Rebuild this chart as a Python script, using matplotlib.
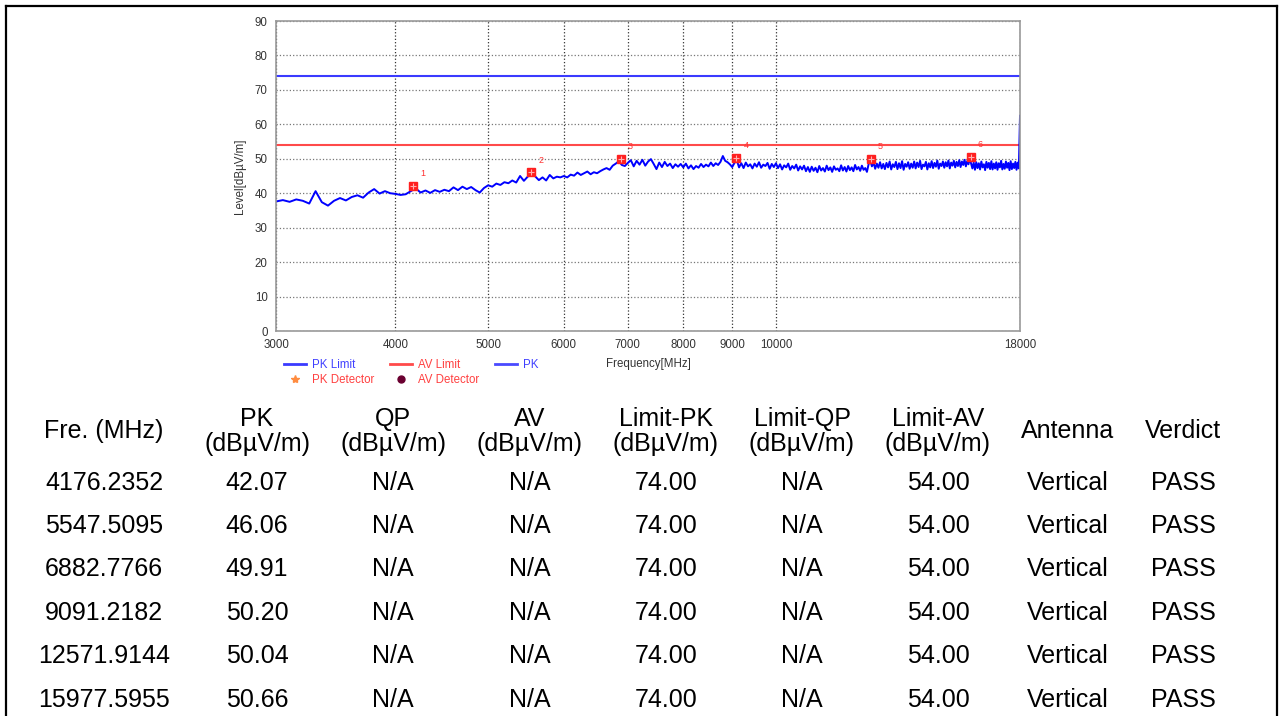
import numpy as np
import matplotlib
matplotlib.use('Agg')
import matplotlib.pyplot as plt
from matplotlib.lines import Line2D

plt.rcParams['font.family'] = ['Liberation Sans', 'DejaVu Sans']

# PK trace, one value every 50 MHz from 3000 to 18000 MHz
pk_level = [
    37.6, 38.0, 37.5, 38.2, 37.8, 37.0, 40.6, 37.4, 36.4, 37.8,
    38.6, 37.9, 38.9, 39.4, 38.7, 40.2, 41.2, 39.9, 40.6, 40.0,
    39.8, 39.5, 39.7, 40.6, 41.4, 40.2, 40.8, 40.1, 40.9, 40.4,
    41.0, 40.6, 41.7, 40.9, 41.9, 41.2, 41.8, 40.9, 40.2, 41.5,
    42.3, 41.9, 42.8, 42.4, 43.2, 42.9, 43.7, 43.1, 45.0, 43.6,
    44.8, 45.6, 44.9, 43.8, 44.6, 43.7, 45.3, 44.3, 44.8, 44.6,
    45.0, 44.6, 45.4, 45.1, 46.0, 45.3, 45.8, 46.3, 45.5, 46.1,
    45.8, 46.4, 46.9, 47.3, 46.8, 48.0, 48.6, 49.3, 48.2, 47.9,
    48.8, 49.6, 47.8, 49.4, 48.3, 49.7, 48.0, 49.2, 49.9, 48.5,
    47.0, 48.9, 47.6, 49.1, 47.9, 48.6, 47.3, 48.4, 47.7, 48.5,
    47.5, 48.6, 47.2, 48.1, 47.0, 47.9, 47.4, 48.5, 47.6, 48.3,
    47.8, 48.9, 47.9, 48.7, 48.2, 49.1, 50.8, 49.4, 49.0, 48.4,
    47.6, 48.8, 49.6, 47.5, 48.7, 47.3, 48.9, 47.8, 48.4, 47.2,
    48.6, 47.7, 49.0, 47.4, 48.3, 47.9, 48.8, 47.1, 48.5, 47.6,
    48.7, 47.3, 48.4, 46.9, 48.1, 47.5, 48.6, 46.8, 47.9, 47.2,
    48.3, 46.6, 47.8, 46.9, 48.0, 46.4, 47.6, 46.2, 47.7, 46.5,
    47.4, 46.1, 47.9, 46.6, 47.3, 46.3, 48.0, 46.7, 47.5, 46.2,
    47.8, 46.8, 47.2, 46.4, 48.1, 46.6, 47.6, 46.3, 47.9, 46.7,
    47.5, 46.4, 48.2, 46.9, 47.6, 46.5, 48.0, 46.8, 47.3, 46.2,
    48.4, 49.6, 47.8, 48.9, 47.1, 48.6, 47.4, 49.0, 47.2, 48.5,
    47.0, 48.8, 47.5, 49.2, 46.9, 48.4, 47.6, 49.1, 47.0, 48.7,
    47.3, 49.3, 46.8, 48.5, 47.7, 49.0, 47.1, 48.6, 47.4, 49.2,
    47.2, 48.9, 47.6, 49.4, 47.0, 48.3, 47.8, 49.1, 46.9, 48.7,
    47.5, 49.3, 47.3, 48.8, 47.7, 49.5, 47.1, 48.6, 47.9, 49.2,
    47.4, 49.0, 47.8, 49.5, 47.2, 48.9, 48.0, 49.4, 47.5, 49.1,
    47.9, 49.6, 47.6, 49.2, 48.2, 49.7, 47.8, 49.3, 48.4, 50.2,
    48.6, 47.2, 48.9, 46.8, 49.0, 47.3, 48.7, 46.9, 49.2, 47.5,
    48.4, 46.7, 49.1, 47.4, 48.8, 47.0, 49.3, 46.9, 48.6, 47.2,
    49.0, 46.8, 48.7, 47.5, 49.4, 46.9, 48.5, 47.1, 49.2, 47.4,
    48.8, 46.7, 49.3, 47.0, 48.6, 47.3, 49.1, 46.8, 48.9, 47.2,
    62.5,
]
pk_freq = np.arange(3000, 18001, 50)

pk_limit = 74.0
av_limit = 54.0

# table / markers
fre = ['4176.2352', '5547.5095', '6882.7766', '9091.2182', '12571.9144', '15977.5955']
pk = ['42.07', '46.06', '49.91', '50.20', '50.04', '50.66']
qp = ['N/A'] * 6
av = ['N/A'] * 6
lim_pk = ['74.00'] * 6
lim_qp = ['N/A'] * 6
lim_av = ['54.00'] * 6
antenna = ['Vertical'] * 6
verdict = ['PASS'] * 6

xticks = [3000, 4000, 5000, 6000, 7000, 8000, 9000, 10000, 18000]

W, H = 1282, 716
fig = plt.figure(figsize=(W / 100, H / 100), dpi=100)
ax = fig.add_axes([276 / W, 1 - 331 / H, 744 / W, 310 / H])

ax.axhline(pk_limit, color='#3a3aff', lw=1.5, label='PK Limit')
ax.axhline(av_limit, color='#ff4a4a', lw=1.5, label='AV Limit')
ax.plot(pk_freq, pk_level, color='#0000ff', lw=1.4, label='PK')

mf = [float(v) for v in fre]
mp = [float(v) for v in pk]
ax.plot(mf, mp, ls='none', marker='s', ms=6, mfc='#ff2020', mec='#ff2020')
ax.plot(mf, mp, ls='none', marker='+', ms=5, mew=0.8, color='#ffb0b0')
for i, (f, v) in enumerate(zip(mf, mp)):
    ax.annotate(str(i + 1), (f, v), xytext=(5, 7), textcoords='offset points',
                color='#ff3030', fontsize=6.5)

ax.set_xscale('log')
ax.set_xlim(3000, 18000)
ax.set_ylim(0, 90)
ax.set_xticks(xticks)
ax.set_xticklabels([str(t) for t in xticks])
ax.minorticks_off()
ax.set_yticks(range(0, 91, 10))
ax.tick_params(length=0, labelsize=8.3, labelcolor='#333333', pad=6)
ax.grid(axis='x', color='#333333', ls=':', lw=0.9)
ax.grid(axis='y', color='#777777', ls=':', lw=0.9)
for s in ax.spines.values():
    s.set_color('#999999')
    s.set_linewidth(1.2)
ax.set_xlabel('Frequency[MHz]', fontsize=8.3, color='#333333', labelpad=5)
ax.set_ylabel('Level[dBµV/m]', fontsize=8.3, color='#333333', labelpad=6)

h_pkl = Line2D([], [], color='#3a3aff', lw=2)
h_avl = Line2D([], [], color='#ff4a4a', lw=2)
h_pk = Line2D([], [], color='#4a4aff', lw=2)
h_pkd = Line2D([], [], ls='none', marker='*', ms=6, color='#ff8c40')
h_avd = Line2D([], [], ls='none', marker='o', ms=5, color='#6a0030')
leg = ax.legend([h_pkl, h_pkd, h_avl, h_avd, h_pk],
                ['PK Limit', 'PK Detector', 'AV Limit', 'AV Detector', 'PK'],
                ncol=3, loc='upper left', bbox_to_anchor=(0.0, -0.065),
                frameon=False, fontsize=8.3, handlelength=1.9, handletextpad=0.5,
                columnspacing=1.4, labelspacing=0.25, borderpad=0.2,
                labelcolor=['#4040ff', '#ff4040', '#ff4040', '#ff4040', '#4040ff'])

# outer border (no bottom edge)
fig.add_artist(Line2D([6 / W, 6 / W], [0, 1 - 6 / H], color='black', lw=1.6))
fig.add_artist(Line2D([6 / W, 1277 / W], [1 - 6 / H, 1 - 6 / H], color='black', lw=1.6))
fig.add_artist(Line2D([1277 / W, 1277 / W], [1 - 6 / H, 0], color='black', lw=1.6))

# table
col_x = [104, 257, 393, 530, 666, 802, 938, 1068, 1183]
fs = 18
def put(x, y, s):
    fig.text(x / W, 1 - (y + 3) / H, s, ha='center', va='center', fontsize=fs, color='black')

top = ['Fre. (MHz)', 'PK', 'QP', 'AV', 'Limit-PK', 'Limit-QP', 'Limit-AV', 'Antenna', 'Verdict']
two_line = [False, True, True, True, True, True, True, False, False]
for x, t, two in zip(col_x, top, two_line):
    if two:
        put(x, 416, t)
        put(x, 441, '(dBµV/m)')
    else:
        put(x, 428, t)

row_y = [480, 523, 566, 610, 653, 697]
for r, y in enumerate(row_y):
    vals = [fre[r], pk[r], qp[r], av[r], lim_pk[r], lim_qp[r], lim_av[r], antenna[r], verdict[r]]
    for x, v in zip(col_x, vals):
        put(x, y, v)

fig.savefig('out.png', dpi=100)
